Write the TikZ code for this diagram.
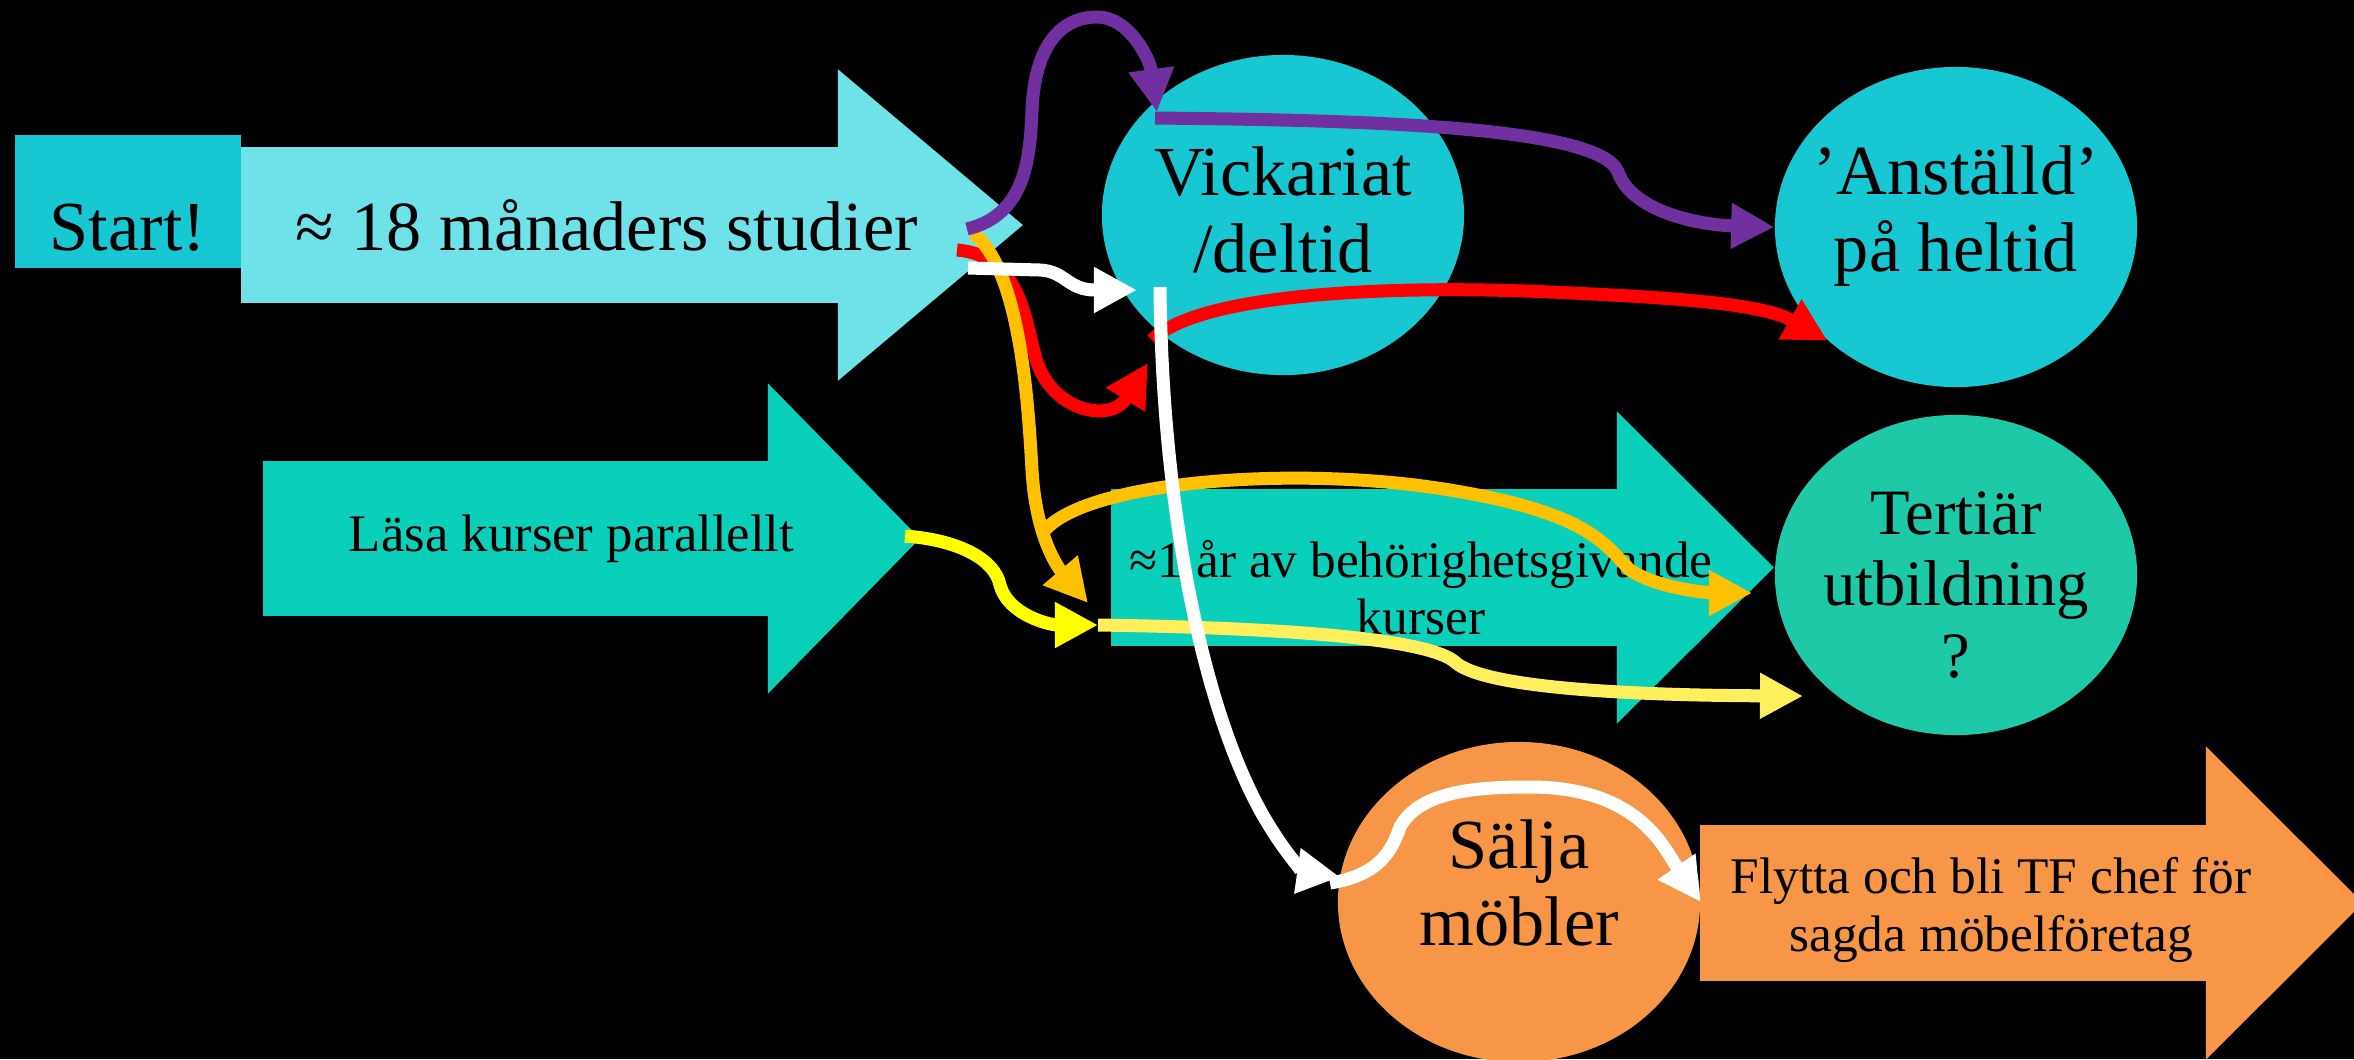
\documentclass[tikz,border=0pt]{standalone}
\usepackage{fontspec}
\setmainfont{Liberation Serif}
\usetikzlibrary{arrows.meta}
\usetikzlibrary{calc}
\usetikzlibrary{shapes.geometric}

\definecolor{startcyan}{HTML}{17C7D2}
\definecolor{skycyan}{HTML}{6EE1E9}
\definecolor{seateal}{HTML}{0ACFB9}
\definecolor{mintteal}{HTML}{1DC9A6}
\definecolor{furnorange}{HTML}{F79646}
\definecolor{linkpurple}{HTML}{7030A0}
\definecolor{linkamber}{HTML}{FFC000}
\definecolor{linkyellow}{HTML}{FFFF00}
\definecolor{paleyellow}{HTML}{FFEF5C}

\begin{document}
\begin{tikzpicture}[
		x=0.01cm, y=-0.01cm,
		link/.style={line width=3.7pt, -{Triangle[length=4.3mm, width=4.3mm]}},
		oval/.style={ellipse, inner sep=0pt, minimum width=3.62cm, minimum height=3.2cm},
		shaft/.style={inner sep=0pt, minimum width=5.08cm, minimum height=1.56cm},
		bigtext/.style={font=\fontsize{20}{22}\selectfont, align=center},
		midtext/.style={font=\fontsize{18.4}{20.2}\selectfont, align=center},
		smalltext/.style={font=\fontsize{14.6}{16.4}\selectfont, align=center},
	]
	\path[use as bounding box, fill=black] (0,0) rectangle (2354,1059);
	\clip (0,0) rectangle (2354,1059);

	\node[fill=startcyan, inner sep=0pt, minimum width=2.26cm, minimum height=1.33cm,
		label={[bigtext, yshift=-0.26cm]center:Start!}] (start) at (128,201.5) {};

	\node[shaft, fill=skycyan, minimum width=5.99cm] (studier) at (540.5,225) {};
	\fill[skycyan] ($(studier.north east)+(-3,-77)$) -- ($(studier.east)+(182,0)$) -- ($(studier.south east)+(-3,77)$) -- cycle;
	\node[bigtext, xshift=0.66cm] (studiertext) at (studier) {≈ 18 månaders studier};

	\node[shaft, fill=seateal, minimum width=5.07cm, minimum height=1.55cm] (lasa) at (516.5,538.5) {};
	\fill[seateal] ($(lasa.north east)+(-3,-77)$) -- ($(lasa.east)+(149,0)$) -- ($(lasa.south east)+(-3,77)$) -- cycle;
	\node[font=\fontsize{15}{17}\selectfont, xshift=0.55cm] (lasatext) at (lasa) {Läsa kurser parallellt};

	\node[shaft, fill=seateal, minimum height=1.57cm] (behorig) at (1365,567.5) {};
	\fill[seateal] ($(behorig.north east)+(-3,-77)$) -- ($(behorig.east)+(154,0)$) -- ($(behorig.south east)+(-3,77)$) -- cycle;
	\node[smalltext, xshift=0.56cm, yshift=-0.2cm] (behorigtext) at (behorig) {≈1 år av behörighetsgivande\\kurser};

	\node[shaft, fill=furnorange] (flytta) at (1954,903) {};
	\fill[furnorange] ($(flytta.north east)+(-3,-78)$) -- ($(flytta.east)+(154,0)$) -- ($(flytta.south east)+(-3,78)$) -- cycle;
	\node[smalltext, xshift=0.37cm, yshift=-0.07cm] (flyttatext) at (flytta) {Flytta och bli TF chef för\\sagda möbelföretag};

	\node[oval, fill=startcyan, label={[bigtext, yshift=0.05cm]center:{Vickariat\\/deltid}}] (vick) at (1283,215) {};
	\node[oval, fill=startcyan, label={[bigtext, yshift=0.11cm]center:{’Anställd’\\på heltid}}] (anst) at (1956,227) {};
	\node[oval, fill=mintteal, label={[midtext, yshift=-0.1cm]center:{Tertiär\\utbildning\\?}}] (tert) at (1956,575) {};
	\node[oval, fill=furnorange, label={[bigtext, yshift=0.19cm]center:{Sälja\\möbler}}] (sal) at (1519,902) {};

	\coordinate (pu0) at (967,229);
	\coordinate (pu1) at (1157,112);
	\coordinate (pu2) at (1155,118);
	\coordinate (re0) at (957,250);
	\coordinate (re1) at (1148,363);
	\coordinate (re2) at (1152,340);
	\coordinate (wh0) at (968,268);
	\coordinate (wh1) at (1137,290);
	\coordinate (wh2) at (1160,287);
	\coordinate (wh3) at (1340,877);
	\coordinate (wh4) at (1330,883);
	\coordinate (am0) at (973,233);
	\coordinate (am1) at (1088,603);
	\coordinate (am2) at (1045,530);
	\coordinate (am3) at (1752,593);
	\coordinate (ye0) at (905,536);
	\coordinate (ye1) at (1098,625);
	\coordinate (ye2) at (1803,696);

	\draw[link, red] (re0) .. controls (1020,255) and (1025,320) .. (1035,355) .. controls (1048,410) and (1110,425) .. (re1);
	\draw[link, red] (re2) .. controls (1200,292) and (1400,285) .. (1550,292) .. controls (1690,298) and (1765,305) .. (anst.south west);
	\draw[link, linkamber] (am0) .. controls (1020,270) and (1028,400) .. (1032,470) .. controls (1036,540) and (1060,570) .. (am1);
	\draw[link, linkamber] (am2) .. controls (1090,480) and (1300,465) .. (1450,490) .. controls (1590,513) and (1605,545) .. (1630,570) .. controls (1660,590) and (1715,593) .. (am3);
	\draw[link, linkyellow] (ye0) .. controls (960,540) and (995,560) .. (1000,585) .. controls (1008,615) and (1050,625) .. (ye1);
	\draw[link, paleyellow] (ye1) .. controls (1300,628) and (1430,640) .. (1455,662) .. controls (1480,685) and (1600,695) .. (ye2);
	\draw[link, linkpurple] (pu0) .. controls (1025,215) and (1030,160) .. (1032,110) .. controls (1035,40) and (1065,17) .. (1097,17) .. controls (1130,17) and (1150,60) .. (pu1);
	\draw[link, linkpurple] (pu2) .. controls (1350,120) and (1600,125) .. (1618,172) .. controls (1632,212) and (1700,225) .. (anst.west);
	\draw[link, white] (wh0) -- (1040,270) .. controls (1065,271) and (1068,290) .. (1095,290) -- (wh1);
	\draw[link, white] (wh2) .. controls (1162,500) and (1200,700) .. (1260,810) .. controls (1285,855) and (1305,872) .. (wh3);
	\draw[link, white] (wh4) .. controls (1380,875) and (1392,850) .. (1400,827) .. controls (1420,790) and (1480,787) .. (1530,787) .. controls (1640,787) and (1665,850) .. (sal.east);
\end{tikzpicture}
\end{document}
